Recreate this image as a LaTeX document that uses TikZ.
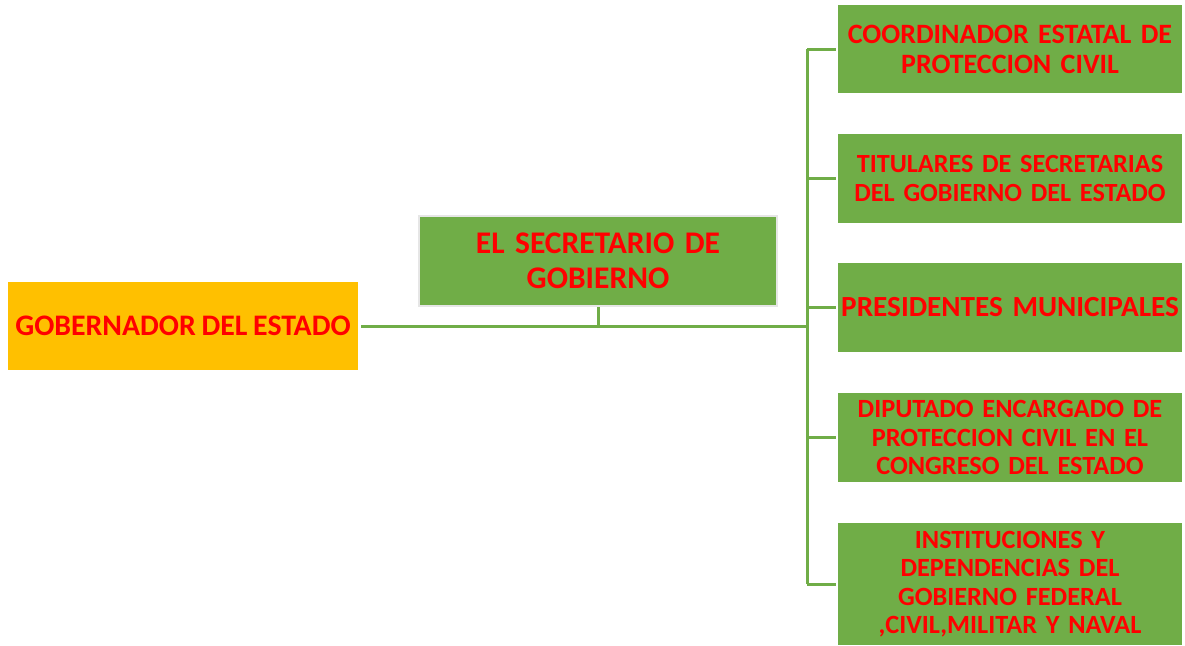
\documentclass[tikz,border=0pt]{standalone}
\usepackage{fontspec}
\setmainfont{Carlito}[WordSpace=0.85]
\definecolor{boxgreen}{HTML}{70AD47}
\definecolor{boxorange}{HTML}{FFC000}
\definecolor{txtred}{HTML}{FF0000}
\definecolor{rimgray}{HTML}{E6E6E6}
\tikzset{
  orgbox/.style={fill=boxgreen, draw=none, align=center, text=txtred, font=\bfseries, inner sep=0pt},
  rightbox/.style={orgbox, minimum width=344pt, text width=344pt},
  link/.style={draw=boxgreen, line width=3pt}
}
\begin{document}
\begin{tikzpicture}[x=1pt,y=-1pt]
\useasboundingbox (0,0) rectangle (1185,645);
\begin{scope}
\clip (0,0) rectangle (1185,645);
% left
\node[orgbox, fill=boxorange, minimum width=350pt, minimum height=88pt,
      font=\bfseries\fontsize{29.8}{34}\selectfont] (gob) at (183,326) {GOBERNADOR DEL ESTADO};
\node[orgbox, draw=rimgray, line width=2.5pt, minimum width=358pt, minimum height=90pt,
      text width=358pt, font=\bfseries\fontsize{31.5}{35}\selectfont] (sec) at (598,261) {EL SECRETARIO DE\\GOBIERNO};
% right
\node[rightbox, minimum height=88pt, font=\bfseries\fontsize{28}{30}\selectfont] (b1) at (1010,49) {COORDINADOR ESTATAL DE\\PROTECCION CIVIL};
\node[rightbox, minimum height=89pt, font=\bfseries\fontsize{26.2}{28.3}\selectfont] (b2) at (1010,178.5) {TITULARES DE SECRETARIAS\\DEL GOBIERNO DEL ESTADO};
\node[rightbox, minimum height=89pt, font=\bfseries\fontsize{29.2}{30}\selectfont] (b3) at (1010,307.5) {PRESIDENTES MUNICIPALES};
\node[rightbox, minimum height=89pt, font=\bfseries\fontsize{26.3}{28.3}\selectfont] (b4) at (1010,437.5) {DIPUTADO ENCARGADO DE\\PROTECCION CIVIL EN EL\\CONGRESO DEL ESTADO};
\node[rightbox, minimum height=122pt, font=\bfseries\fontsize{26.3}{28.3}\selectfont] (b5) at (1010,584) {INSTITUCIONES Y\\DEPENDENCIAS DEL\\GOBIERNO FEDERAL\\,CIVIL,MILITAR Y NAVAL};
\end{scope}
% connectors
\coordinate (j) at (807,326);
\draw[link, shorten <=3pt] (gob.east) -- (gob.east -| j);
\draw[link] (sec.south) -- (sec.south |- j);
\draw[link] (b1.west -| j) -- (b5.west -| j);
\foreach \b in {b1,b2,b3,b4,b5}{
  \draw[link, shorten <=2pt] (\b.west) -- (\b.west -| j);
}
\end{tikzpicture}
\end{document}
